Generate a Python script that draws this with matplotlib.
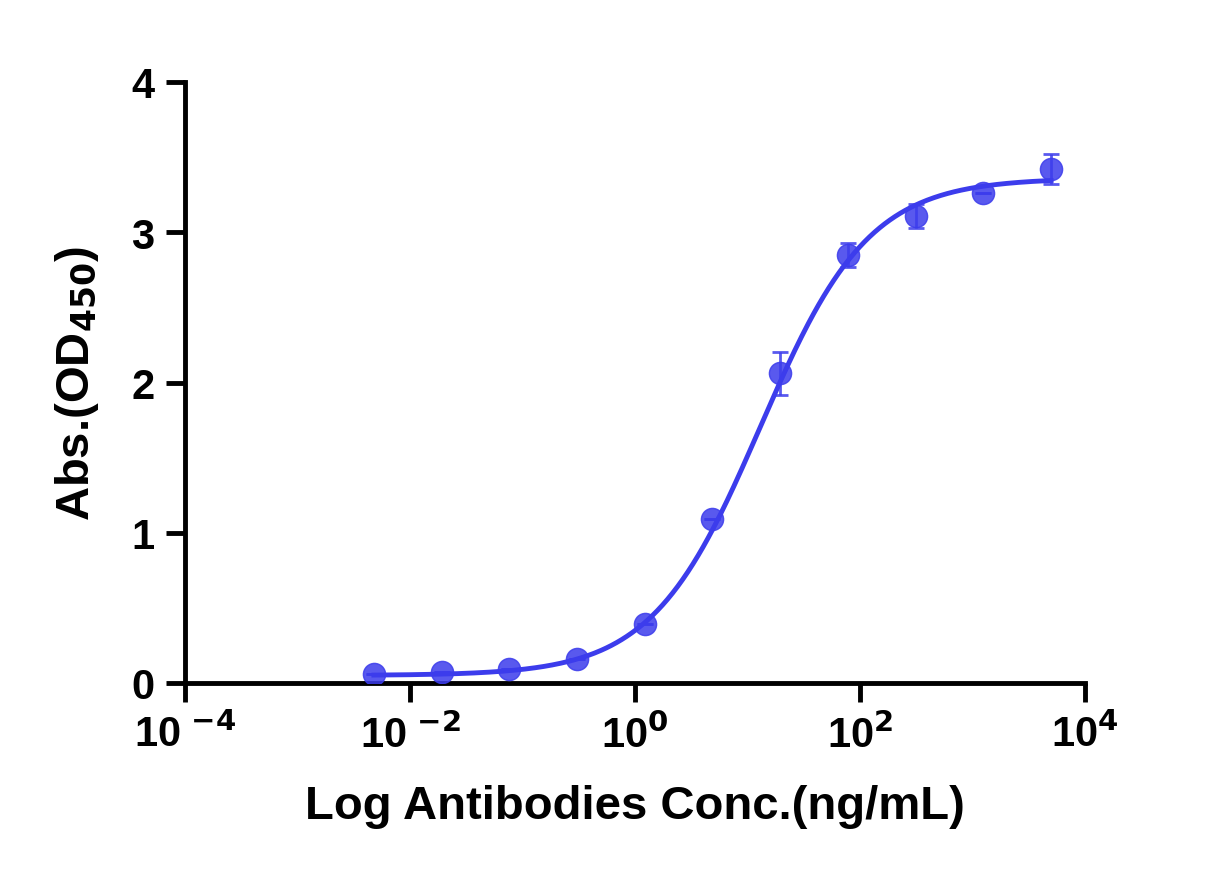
import matplotlib
matplotlib.use("Agg")
import matplotlib.pyplot as plt
import numpy as np

plt.rcParams['font.family'] = ['Liberation Sans', 'DejaVu Sans']
plt.rcParams['font.weight'] = 'bold'
plt.rcParams['mathtext.fontset'] = 'custom'
plt.rcParams['mathtext.bf'] = 'Liberation Sans:bold'
plt.rcParams['mathtext.rm'] = 'Liberation Sans:bold'
plt.rcParams['mathtext.default'] = 'bf'

# data
conc = [0.00477, 0.0191, 0.0763, 0.305, 1.22, 4.88, 19.5, 78.1, 312.5, 1250, 5000]
od = [0.06, 0.07, 0.09, 0.16, 0.39, 1.09, 2.06, 2.85, 3.11, 3.26, 3.42]
err = [0.0, 0.0, 0.0, 0.0, 0.0, 0.0, 0.14, 0.08, 0.08, 0.0, 0.1]

# 4PL fit parameters
bottom, top, ec50, hill = 0.05, 3.36, 13.0, 0.9

color = '#3c3cec'

fig = plt.figure(figsize=(12.27, 8.87), dpi=100)
ax = fig.add_axes([185/1227, 1-684/887, 900/1227, 601/887])

xs = np.logspace(np.log10(conc[0]), np.log10(conc[-1]), 400)
ys = bottom + (top - bottom) / (1 + (ec50 / xs) ** hill)
ax.plot(xs, ys, color=color, lw=3.5, zorder=2)
ax.errorbar(conc, od, yerr=err, fmt='o', color=color, ms=16, alpha=0.85,
            ecolor=color, elinewidth=2, capsize=6, capthick=2, zorder=3)

ax.set_xscale('log')
ax.set_xlim(1e-4, 1e4)
ax.set_ylim(0, 4)
ax.set_xticks([1e-4, 1e-2, 1, 1e2, 1e4])
ax.set_xticklabels([r'10$^{\ \mathsf{-4}}$', r'10$^{\ \mathsf{-2}}$', r'10$^{\mathsf{0}}$',
                    r'10$^{\mathsf{2}}$', r'10$^{\mathsf{4}}$'])
ax.xaxis.set_minor_locator(matplotlib.ticker.NullLocator())
ax.set_yticks([0, 1, 2, 3, 4])
for s in ['top', 'right']:
    ax.spines[s].set_visible(False)
for s in ['left', 'bottom']:
    ax.spines[s].set_linewidth(3.5)
ax.tick_params(width=3.5, length=14, labelsize=30, pad=8)
ax.set_xlabel('Log Antibodies Conc.(ng/mL)', fontsize=34, fontweight='bold', labelpad=20)
ax.set_ylabel(r'Abs.(OD$_{\mathsf{450}}$)', fontsize=34, fontweight='bold', labelpad=22)

fig.savefig('out.png', dpi=100)
